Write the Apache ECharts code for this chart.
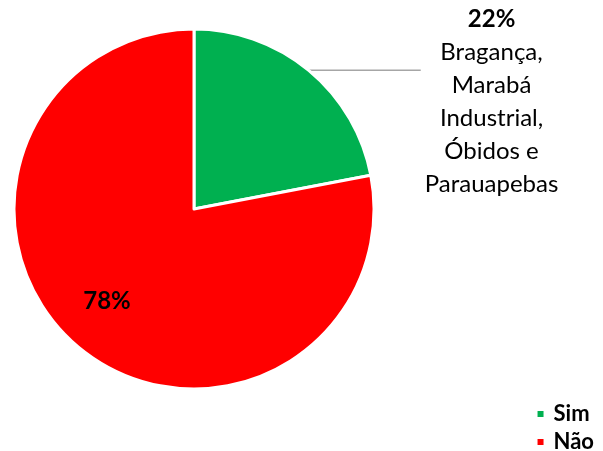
<!DOCTYPE html>
<html>
<head>
<meta charset="utf-8">
<script src="https://cdn.jsdelivr.net/npm/echarts@6/dist/echarts.min.js"></script>
<style>
  html, body { margin: 0; padding: 0; background: #fff; }
  #chart { width: 603px; height: 451px; }
</style>
</head>
<body>
<div id="chart"></div>
<script>
  // dados do gráfico
  const categorias = ['Sim', 'Não'];
  const valores = [22, 78];
  const cores = ['#00B050', '#FF0000'];
  const municipiosSim = ['Bragança,', 'Marabá', 'Industrial,', 'Óbidos e', 'Parauapebas'];

  const fonte = 'Lato, "Open Sans", sans-serif';

  let chart = echarts.init(document.getElementById('chart'));

  let dados = categorias.map(function (c, i) {
    let item = { name: c, value: valores[i], itemStyle: { color: cores[i] } };
    if (i === 0) {
      item.label = {
        position: 'outside',
        alignTo: 'none',
        distanceToLabelLine: 4,
        padding: [62, 0, 0, 0],
        formatter: '{b|' + valores[i] + '%}\n' + municipiosSim.map(function (m) { return '{t|' + m + '}'; }).join('\n')
      };
      item.labelLine = { show: true };
    } else {
      item.label = {
        position: 'inside',
        formatter: '{b|' + valores[i] + '%}'
      };
      item.labelLine = { show: false };
    }
    return item;
  });

  chart.setOption({
    animation: false,
    legend: {
      orient: 'vertical',
      right: 4,
      bottom: -7,
      itemWidth: 8,
      itemHeight: 8,
      itemGap: 6,
      icon: 'rect',
      textStyle: { fontFamily: fonte, fontSize: 22, fontWeight: 'bold', color: '#000', padding: [0, 0, 0, 4] },
      data: categorias
    },
    series: [{
      type: 'pie',
      center: [194, 209],
      radius: 180,
      startAngle: 90,
      clockwise: true,
      itemStyle: { borderColor: '#fff', borderWidth: 3 },
      label: {
        fontFamily: fonte,
        color: '#000',
        rich: {
          b: { fontFamily: fonte, fontSize: 24, fontWeight: 'bold', color: '#000', lineHeight: 33, align: 'center' },
          t: { fontFamily: fonte, fontSize: 24, color: '#000', lineHeight: 33, align: 'center' }
        }
      },
      labelLine: {
        length: 0,
        length2: 112,
        lineStyle: { color: '#A6A6A6', width: 1.5 }
      },
      labelLayout: function (p) {
        if (p.dataIndex === 1) {
          return { x: 107, y: 301, align: 'center', verticalAlign: 'middle' };
        }
        return {};
      },
      data: dados
    }]
  });
</script>
</body>
</html>
